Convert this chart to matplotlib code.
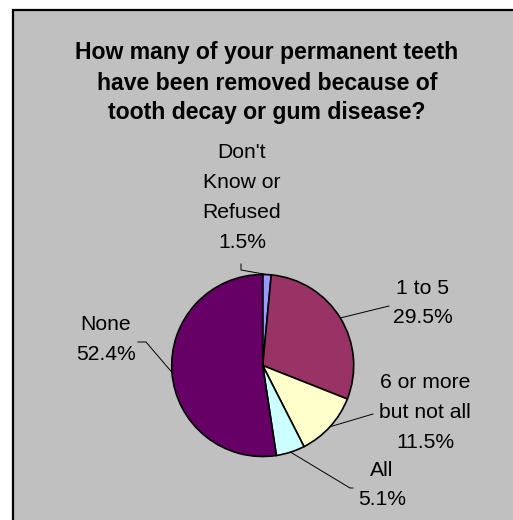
import numpy as np
import matplotlib
matplotlib.use("Agg")
import matplotlib.pyplot as plt
from matplotlib.patches import Rectangle

# ---- data ----
categories = ["Don't\nKnow or\nRefused", "1 to 5", "6 or more\nbut not all", "All", "None"]
values = [1.5, 29.5, 11.5, 5.1, 52.4]
colors = ["#9999FF", "#993366", "#FFFFCC", "#CCFFFF", "#660066"]
title_lines = ["How many of your permanent teeth",
               "have been removed because of",
               "tooth decay or gum disease?"]

# ---- layout (pixel space, y measured from top) ----
W, H = 513, 520
fig = plt.figure(figsize=(W / 100, H / 100), dpi=100)
ax = fig.add_axes([0, 0, 1, 1])

def Y(y):
    return H - y

# grey plot area
ax.add_patch(Rectangle((12.5, -20), 540, Y(10) + 20, facecolor="#C0C0C0",
                       edgecolor="black", linewidth=1.6, zorder=0))

font = "Liberation Sans"
for i, line in enumerate(title_lines):
    ax.text(267, Y(53 + 30 * i), line, ha="center", va="center",
            fontsize=16.6, fontweight="bold", family=font, zorder=5)

cx, cy, r = 262.7, Y(365.5), 91
wedges, _ = ax.pie(values, colors=colors, startangle=90, counterclock=False,
                   center=(cx, cy), radius=r, frame=True,
                   wedgeprops=dict(edgecolor="black", linewidth=1.2))
ax.set_xlim(0, W)
ax.set_ylim(0, H)
ax.set_aspect("equal")
ax.axis("off")

label_pos = [(242, 153), (423, 288), (425, 383), (382, 470), (106, 325)]
leader_pts = [[(241, 264), (241, 270)], [(389, 306)], [(373, 414)],
              [(353, 488), (350, 488)], [(138, 342), (146, 342)]]

for w, cat, v, (lx, ly), pts in zip(wedges, categories, values, label_pos, leader_pts):
    lines = cat.split("\n") + [f"{v:.1f}%"]
    for j, t in enumerate(lines):
        ax.text(lx, Y(ly + 29.7 * j), t, ha="center", va="center",
                fontsize=15.2, family=font, zorder=5)
    ang = np.deg2rad((w.theta1 + w.theta2) / 2)
    ex, ey = cx + r * np.cos(ang), cy + r * np.sin(ang)
    xs = [p[0] for p in pts] + [ex]
    ys = [Y(p[1]) for p in pts] + [ey]
    ax.plot(xs, ys, color="black", linewidth=0.7, zorder=4)

fig.savefig("out.png", dpi=100, facecolor="white")
